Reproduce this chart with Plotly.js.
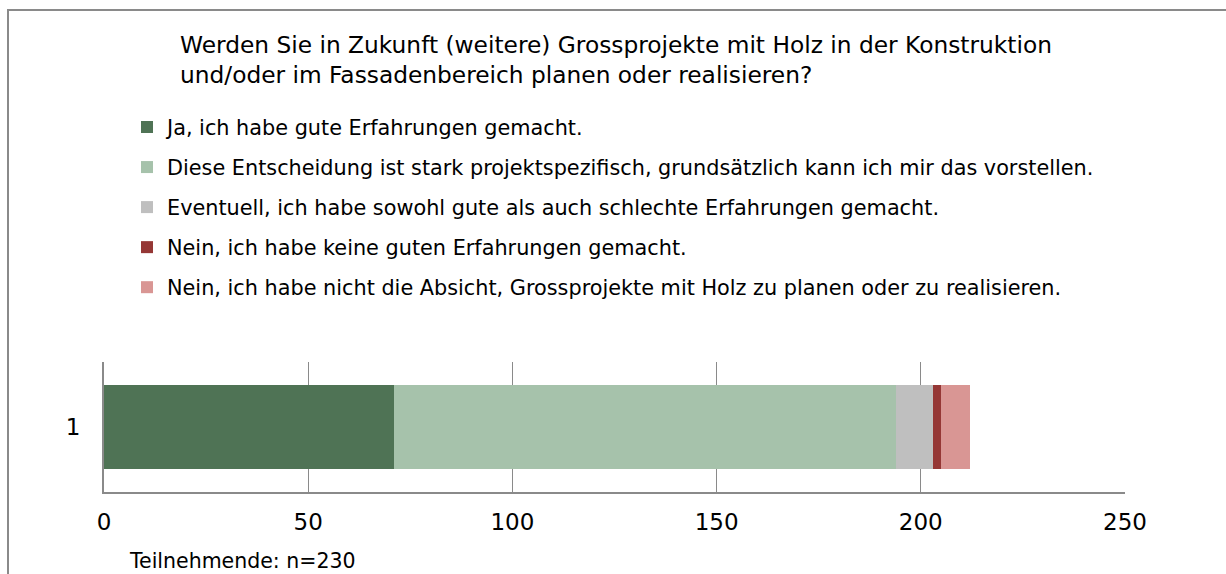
<!DOCTYPE html>
<html>
<head>
<meta charset="utf-8">
<script src="https://cdn.plot.ly/plotly-3.0.1.min.js"></script>
<style>
  html, body { margin: 0; padding: 0; background: #ffffff; }
  #wrap { position: relative; width: 1226px; height: 574px; overflow: hidden; }
  #frame { position: absolute; left: 7px; top: 9px; width: 1300px; height: 700px;
           border-left: 2px solid #8a8a8a; border-top: 2px solid #8a8a8a; pointer-events: none; }
  #chart { position: absolute; left: 0; top: 0; width: 1226px; height: 574px; }
</style>
</head>
<body>
<div id="wrap">
  <div id="chart"></div>
  <div id="frame"></div>
</div>
<script>
// ---- data ----
const categories = ['1'];
const seriesNames = [
  'Ja, ich habe gute Erfahrungen gemacht.',
  'Diese Entscheidung ist stark projektspezifisch, grundsätzlich kann ich mir das vorstellen.',
  'Eventuell, ich habe sowohl gute als auch schlechte Erfahrungen gemacht.',
  'Nein, ich habe keine guten Erfahrungen gemacht.',
  'Nein, ich habe nicht die Absicht, Grossprojekte mit Holz zu planen oder zu realisieren.'
];
const valJa = [71];
const valProjekt = [123];
const valEventuell = [9];
const valNeinSchlecht = [2];
const valNeinAbsicht = [7];
const seriesColors = ['#4f7355', '#a6c2ab', '#bfbfbf', '#953735', '#d99694'];
const xTickVals = [0, 50, 100, 150, 200, 250];
const titleText = 'Werden Sie in Zukunft (weitere) Grossprojekte mit Holz in der Konstruktion<br>und/oder im Fassadenbereich planen oder realisieren?';
const noteText = 'Teilnehmende: n=230';

const allValues = [valJa, valProjekt, valEventuell, valNeinSchlecht, valNeinAbsicht];
const FONT = '"DejaVu Sans", Verdana, sans-serif';

const traces = allValues.map((v, i) => ({
  type: 'bar',
  orientation: 'h',
  name: seriesNames[i],
  x: v,
  y: categories,
  marker: { color: seriesColors[i], line: { width: 0 } },
  legendgroup: 'g' + i,
  hoverinfo: 'name+x'
}));

// plot area in pixels (used only to place decorations in paper coordinates)
const PL = 104, PR = 1125, PT = 362, PB = 491.7;
const px2paperX = p => (p - PL) / (PR - PL);
const px2paperY = p => (PB - p) / (PB - PT);

const layout = {
  width: 1226,
  height: 574,
  margin: { l: PL, r: 1226 - PR, t: PT, b: 574 - PB, pad: 0, autoexpand: false },
  paper_bgcolor: 'rgba(0,0,0,0)',
  plot_bgcolor: 'rgba(0,0,0,0)',
  barmode: 'stack',
  bargap: 0.358,
  font: { family: FONT, color: '#000000', size: 20 },
  title: {
    text: titleText,
    font: { family: FONT, size: 23.3, color: '#000000' },
    xref: 'container', yref: 'container',
    x: 180 / 1226, xanchor: 'left',
    y: 1 - 53 / 574, yanchor: 'top',
    align: 'left'
  },
  showlegend: true,
  legend: {
    xref: 'container', yref: 'container',
    x: 127 / 1226, xanchor: 'left',
    y: 1 - 107 / 574, yanchor: 'top',
    orientation: 'v',
    traceorder: 'grouped',
    tracegroupgap: 10,
    font: { family: FONT, size: 20.8, color: '#000000' },
    bgcolor: 'rgba(0,0,0,0)',
    borderwidth: 0
  },
  xaxis: {
    range: [0, 250],
    tickvals: xTickVals,
    ticktext: xTickVals.map(String),
    showgrid: true,
    gridcolor: '#8a8a8a',
    gridwidth: 1.3,
    zeroline: false,
    showline: true,
    linecolor: '#8a8a8a',
    linewidth: 2,
    ticks: '',
    ticklabelstandoff: 8,
    tickangle: 0,
    tickfont: { family: FONT, size: 23, color: '#000000' },
    fixedrange: true
  },
  yaxis: {
    type: 'category',
    range: [-0.5, 0.5],
    showgrid: false,
    zeroline: false,
    showline: true,
    linecolor: '#8a8a8a',
    linewidth: 2,
    ticks: '',
    ticklabelstandoff: 17,
    tickfont: { family: FONT, size: 23, color: '#000000' },
    fixedrange: true
  },
  annotations: [{
    text: noteText,
    xref: 'paper', yref: 'paper',
    x: px2paperX(127), xanchor: 'left',
    y: px2paperY(561), yanchor: 'middle',
    showarrow: false,
    font: { family: FONT, size: 20.5, color: '#000000' }
  }]
};

Plotly.newPlot('chart', traces, layout, { displayModeBar: false, staticPlot: true });
</script>
</body>
</html>
